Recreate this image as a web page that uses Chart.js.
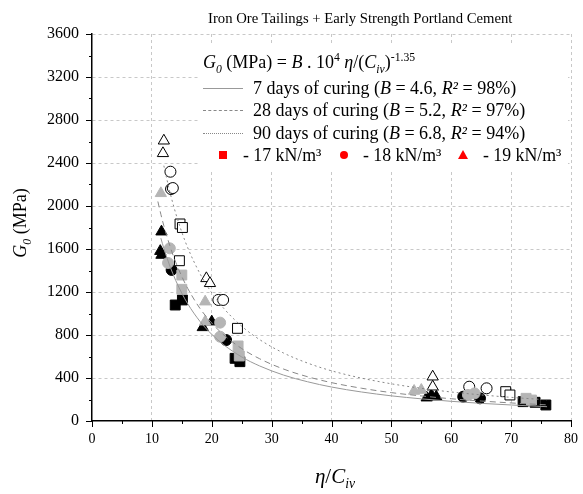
<!DOCTYPE html>
<html><head><meta charset="utf-8">
<script src="https://cdn.jsdelivr.net/npm/chart.js@4/dist/chart.umd.min.js"></script>
<style>
body{margin:0;background:#fff;}
#wrap{position:relative;width:583px;height:494px;font-family:"Liberation Serif","Times New Roman",serif;color:#000;overflow:hidden;}
#c{position:absolute;left:0;top:0;}
.t{position:absolute;white-space:nowrap;line-height:20px;}
#title{left:208px;top:8px;font-size:14.7px;}
#legend{position:absolute;left:198px;top:44px;width:370px;height:126px;background:#fff;}
.row{font-size:18px;}
.row2{font-size:17.8px;}
.ln{position:absolute;left:203px;width:40px;height:0;}
.mk{position:absolute;}
sub,sup{font-size:65%;line-height:0;}
#ytitle{left:-30px;top:213px;width:100px;text-align:center;font-size:18px;transform:rotate(-90deg);}
#xtitle{left:285px;top:466px;width:100px;text-align:center;font-size:21px;}
</style>
</head><body>
<div id="wrap">
<canvas id="c" width="583" height="494"></canvas>
<div id="legend"></div>
<div class="t" id="title">Iron Ore Tailings + Early Strength Portland Cement</div>
<div class="t row" style="left:203px;top:52px;"><i>G<sub>0</sub></i> (MPa) = <i>B</i> . 10<sup>4</sup> <i>η</i>/(<i>C<sub>iv</sub></i>)<sup>-1.35</sup></div>
<div class="ln" style="top:88px;border-top:1px solid #999;"></div>
<div class="t row" style="left:253px;top:78px;">7 days of curing (<i>B</i> = 4.6, <i>R²</i> = 98%)</div>
<div class="ln" style="top:110px;border-top:1px dashed #888;"></div>
<div class="t row" style="left:253px;top:100px;">28 days of curing (<i>B</i> = 5.2, <i>R²</i> = 97%)</div>
<div class="ln" style="top:133px;border-top:1px dotted #888;"></div>
<div class="t row" style="left:253px;top:123px;">90 days of curing (<i>B</i> = 6.8, <i>R²</i> = 94%)</div>
<div class="mk" style="left:219px;top:151px;width:8px;height:8px;background:#f00;"></div>
<div class="t row2" style="left:243px;top:145px;">- 17 kN/m³</div>
<div class="mk" style="left:340px;top:151px;width:8px;height:8px;background:#f00;border-radius:50%;"></div>
<div class="t row2" style="left:363px;top:145px;">- 18 kN/m³</div>
<div class="mk" style="left:458px;top:150px;width:0;height:0;border-left:5px solid transparent;border-right:5px solid transparent;border-bottom:9px solid #f00;"></div>
<div class="t row2" style="left:483px;top:145px;">- 19 kN/m³</div>
<div class="t" id="ytitle"><i>G<sub>0</sub></i> (MPa)</div>
<div class="t" id="xtitle"><i>η</i>/<i>C<sub>iv</sub></i></div>
</div>
<script>
// ---- fitted curves: G0 = B·10^4·(η/Civ)^-1.35
const curve7X  = [11.5,12,13,14,15,16,18,20,22,25,28,32,36,40,45,50,55,60,65,70,76];
const curve7Y  = [1701,1606,1442,1305,1189,1089,929,806,709,596,512,427,365,316,270,234,206,183,164,149,133];
const curve28X = [11,11.5,12,13,14,15,16,18,20,22,25,28,32,36,40,45,50,55,60,65,70,76];
const curve28Y = [2042,1923,1816,1630,1475,1344,1232,1050,911,801,674,579,483,412,357,305,264,233,207,186,168,150];
const curve90X = [12,13,14,15,16,18,20,22,25,28,32,36,40,45,50,55,60,65,70,76];
const curve90Y = [2375,2132,1929,1757,1610,1374,1192,1048,882,757,632,539,467,399,346,304,270,243,220,197];

// ---- 7 days (black filled)
const black17X = [13.9,15.1,23.9,24.7,72.0,74.0,75.8];
const black17Y = [1079,1126,583,552,180,174,149];
const black18X = [13.3,22.4,62.0,64.8];
const black18Y = [1405,753,226,211];
const black19X = [11.6,11.6,11.4,18.5,20.0,55.9,56.7,57.5];
const black19Y = [1761,1544,1580,871,924,217,242,226];
// ---- 28 days (grey filled)
const grey17X = [15.0,15.0,24.4,24.6,72.5,73.4];
const grey17Y = [1358,1225,698,605,211,195];
const grey18X = [13.0,12.7,21.4,21.4,62.8,63.9];
const grey18Y = [1606,1470,915,784,242,257];
const grey19X = [11.5,18.9,18.9,53.8,55.0];
const grey19Y = [2118,1110,924,279,288];
// ---- 90 days (open)
const open17X = [14.7,15.1,14.6,24.3,69.1,69.8];
const open17Y = [1833,1800,1491,862,273,242];
const open18X = [13.1,13.2,13.5,21.1,21.9,63.0,65.9];
const open18Y = [2319,2158,2167,1126,1126,319,304];
const open19X = [12.0,11.85,19.1,19.7,56.9,56.9];
const open19Y = [2607,2490,1327,1281,412,319];

const xTicks = [0,10,20,30,40,50,60,70,80];
const yTicks = [0,400,800,1200,1600,2000,2400,2800,3200,3600];

const pts = (xs, ys) => xs.map((v, i) => ({x: v, y: ys[i]}));

function markerSet(xs, ys, style, fill, stroke, r) {
  return {type:'scatter', data: pts(xs, ys), pointStyle: style, pointRadius: r,
    pointBackgroundColor: fill, pointBorderColor: stroke, pointBorderWidth: 1,
    showLine:false, order: 5};
}
function curveSet(xs, ys, dash, color) {
  return {type:'line', data: pts(xs, ys), borderColor: color, borderWidth: 1,
    borderDash: dash, pointRadius: 0, fill:false, cubicInterpolationMode:'monotone', order: 1};
}
const GREY = '#b5b5b5';
const datasets = [
  markerSet(grey19X, grey19Y, 'triangle', GREY, GREY, 6.5),
  markerSet(grey18X, grey18Y, 'circle', GREY, GREY, 5.5),
  markerSet(grey17X, grey17Y, 'rect', GREY, GREY, 7),
  markerSet(open19X, open19Y, 'triangle', '#fff', '#000', 6.5),
  markerSet(open18X, open18Y, 'circle', '#fff', '#000', 5.5),
  markerSet(open17X, open17Y, 'rect', '#fff', '#000', 7),
  markerSet(black19X, black19Y, 'triangle', '#000', '#000', 6.5),
  markerSet(black18X, black18Y, 'circle', '#000', '#000', 5.5),
  markerSet(black17X, black17Y, 'rect', '#000', '#000', 7),
  curveSet(curve7X, curve7Y, [], '#999'),
  curveSet(curve28X, curve28Y, [6,4], '#888'),
  curveSet(curve90X, curve90Y, [2,3], '#888'),
];

const tickMarks = {
  id: 'tickMarks',
  afterDraw(chart) {
    const {ctx, scales: {x, y}} = chart;
    ctx.save();
    ctx.strokeStyle = '#000';
    ctx.lineWidth = 1;
    for (let v = 0; v <= 3600; v += 200) {
      const p = Math.round(y.getPixelForValue(v)) + 0.5;
      const len = v % 400 === 0 ? 6 : 3;
      ctx.beginPath(); ctx.moveTo(x.left - len, p); ctx.lineTo(x.left, p); ctx.stroke();
    }
    for (let v = 0; v <= 80; v += 5) {
      const p = Math.round(x.getPixelForValue(v)) + 0.5;
      const len = v % 10 === 0 ? 6 : 3;
      ctx.beginPath(); ctx.moveTo(p, y.bottom); ctx.lineTo(p, y.bottom + len); ctx.stroke();
    }
    ctx.restore();
  }
};

new Chart(document.getElementById('c'), {
  data: {datasets},
  options: {
    responsive: false,
    animation: false,
    events: [],
    layout: {padding: {top: 34, right: 12, left: 0, bottom: 0}},
    plugins: {legend: {display: false}, tooltip: {enabled: false}, title: {display: false}},
    scales: {
      x: {
        type: 'linear', min: 0, max: 80,
        afterBuildTicks: s => { s.ticks = xTicks.map(v => ({value: v})); },
        afterFit: s => { s.height = 73; s.paddingLeft = 0; s.paddingRight = 0; },
        grid: {color: ctx => ctx.tick && ctx.tick.value === 0 ? 'rgba(0,0,0,0)' : '#c8c8c8', lineWidth: 1, drawTicks: false},
        border: {color: '#000', width: 1.5, dash: [3, 3]},
        ticks: {color: '#000', padding: 10, font: {family: 'Liberation Serif', size: 14}, maxRotation: 0,
          callback: v => String(v)}
      },
      y: {
        type: 'linear', min: 0, max: 3600,
        afterBuildTicks: s => { s.ticks = yTicks.map(v => ({value: v})); },
        afterFit: s => { s.width = 92; s.paddingTop = 0; s.paddingBottom = 0; },
        grid: {color: ctx => ctx.tick && ctx.tick.value === 0 ? 'rgba(0,0,0,0)' : '#c8c8c8', lineWidth: 1, drawTicks: false},
        border: {color: '#000', width: 1.5, dash: [3, 3]},
        ticks: {color: '#000', padding: 13, font: {family: 'Liberation Serif', size: 16},
          callback: v => String(v)}
      }
    }
  },
  plugins: [tickMarks]
});
</script>
</body></html>
